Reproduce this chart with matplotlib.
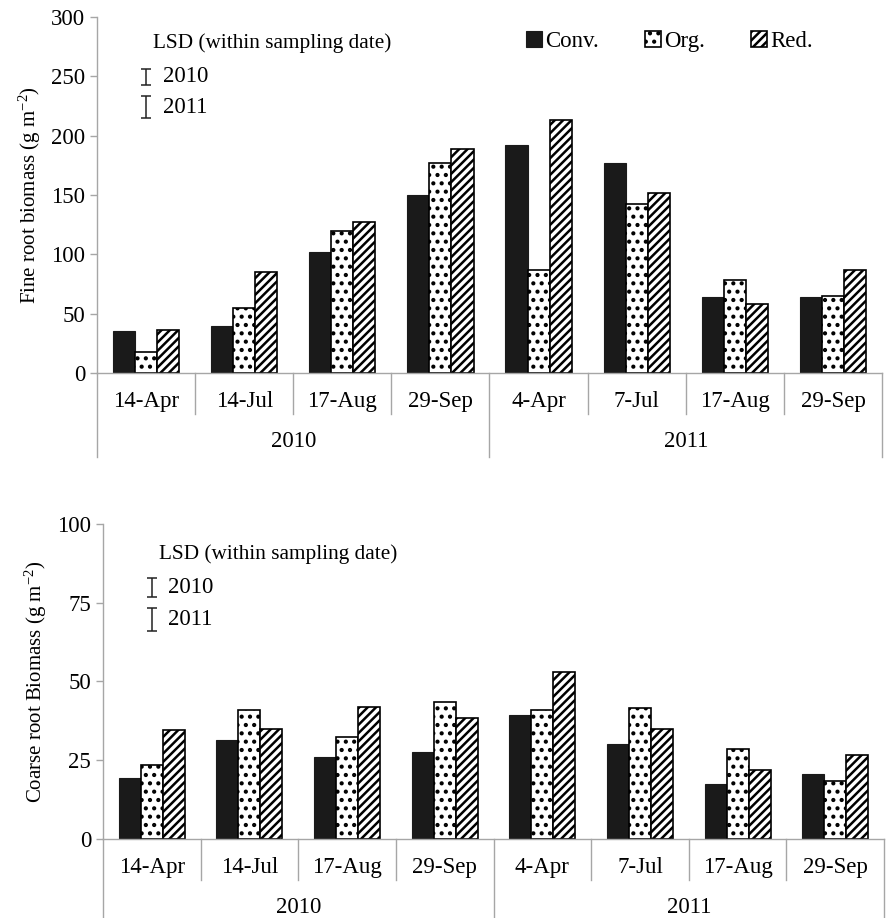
import matplotlib
matplotlib.use("Agg")
import matplotlib.pyplot as plt
import numpy as np

plt.rcParams["font.family"] = ["Liberation Serif", "DejaVu Serif"]
plt.rcParams["mathtext.default"] = "regular"
plt.rcParams["hatch.linewidth"] = 1.8

dates = ["14-Apr", "14-Jul", "17-Aug", "29-Sep", "4-Apr", "7-Jul", "17-Aug", "29-Sep"]
years = ["2010", "2011"]
treatments = ["Conv.", "Org.", "Red."]

fine_conv = [35, 40, 102, 150, 192, 177, 64, 64]
fine_org = [18, 55, 120, 177, 87, 142, 78, 65]
fine_red = [36, 85, 127, 189, 213, 152, 58, 87]

coarse_conv = [19.5, 31.5, 26, 27.5, 39.5, 30, 17.5, 20.5]
coarse_org = [23.5, 41, 32.5, 43.5, 41, 41.5, 28.5, 18.5]
coarse_red = [34.5, 35, 42, 38.5, 53, 35, 22, 26.5]

# LSD bars (low, high) for 2010 and 2011
fine_lsd = {"2010": (243, 256), "2011": (215, 233)}
coarse_lsd = {"2010": (76.8, 82.9), "2011": (66, 73.3)}

GREY = "#a6a6a6"
FS = 16.5

fig = plt.figure(figsize=(8.93, 9.18), dpi=100)
ax1 = fig.add_axes([0.1086, 0.5937, 0.8791, 0.3878])
ax2 = fig.add_axes([0.1153, 0.0861, 0.8747, 0.3431])


def draw(ax, conv, org, red, ymax, step, ylabel, lsd, lsd_title_y, legend=False):
    x = np.arange(len(dates))
    w = 0.225
    ax.bar(x - w, conv, w, color="#1a1a1a", edgecolor="#1a1a1a", linewidth=0.8, label=treatments[0])
    ax.bar(x, org, w, color="white", edgecolor="black", hatch="..", linewidth=1.2, label=treatments[1])
    ax.bar(x + w, red, w, color="white", edgecolor="black", hatch="////", linewidth=1.2, label=treatments[2])

    ax.set_xlim(-0.5, len(dates) - 0.5)
    ax.set_ylim(0, ymax)
    ax.set_yticks(np.arange(0, ymax + 1, step))
    ax.tick_params(axis="y", labelsize=FS, color=GREY, length=5, width=1)
    ax.set_xticks([])
    for s in ["top", "right"]:
        ax.spines[s].set_visible(False)
    ax.spines["left"].set_color(GREY)
    ax.spines["bottom"].set_color(GREY)
    ax.spines["left"].set_linewidth(1)
    ax.spines["bottom"].set_linewidth(1)
    ax.set_ylabel(ylabel, fontsize=15, labelpad=6)

    # multi-level category axis
    h_px = ax.get_position().height * fig.get_figheight() * fig.dpi
    tr = ax.get_xaxis_transform()
    short = -41 / h_px
    long_ = -84 / h_px
    for i in range(len(dates) + 1):
        xb = i - 0.5
        y_end = long_ if i in (0, 4, 8) else short
        ax.plot([xb, xb], [0, y_end], color=GREY, lw=1, transform=tr, clip_on=False)
    for i, d in enumerate(dates):
        ax.text(i, -29 / h_px, d, transform=tr, ha="center", va="center", fontsize=FS)
    for j, yr in enumerate(years):
        ax.text(1.5 + 4 * j, -69 / h_px, yr, transform=tr, ha="center", va="center", fontsize=FS)

    # LSD annotation
    ax.text(0.07, lsd_title_y, "LSD (within sampling date)", fontsize=15.3, va="center", ha="left")
    for yr in years:
        lo, hi = lsd[yr]
        mid = (lo + hi) / 2
        ax.errorbar([0.0], [mid], yerr=[[mid - lo], [hi - mid]], fmt="none",
                    ecolor="#222222", elinewidth=1.1, capsize=3.5, capthick=1.1)
        ax.text(0.17, mid, yr, fontsize=FS, va="center", ha="left")

    if legend:
        ax.legend(loc="upper right", bbox_to_anchor=(0.93, 1.0), ncol=3, frameon=False,
                  fontsize=FS, handlelength=0.7, handleheight=0.7, handletextpad=0.15,
                  columnspacing=2.0, borderaxespad=0.2)


draw(ax1, fine_conv, fine_org, fine_red, 300, 50,
     "Fine root biomass (g m$^{-2}$)", fine_lsd, 278, legend=True)
draw(ax2, coarse_conv, coarse_org, coarse_red, 100, 25,
     "Coarse root Biomass (g m$^{-2}$)", coarse_lsd, 90.5)

fig.savefig("out.png", dpi=100)
